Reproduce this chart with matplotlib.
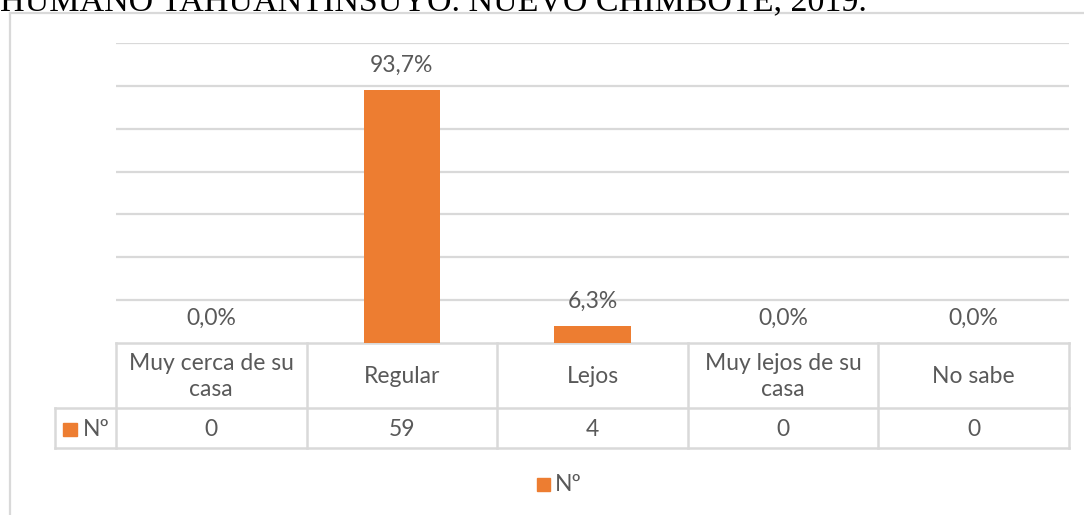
import matplotlib
matplotlib.use("Agg")
import matplotlib.pyplot as plt
from matplotlib.patches import Rectangle

categories = ["Muy cerca de su\ncasa", "Regular", "Lejos", "Muy lejos de su\ncasa", "No sabe"]
counts = [0, 59, 4, 0, 0]
pct_labels = ["0,0%", "93,7%", "6,3%", "0,0%", "0,0%"]
series_name = "Nº"
title = "HUMANO TAHUANTINSUYO. NUEVO CHIMBOTE, 2019."

W, H = 1084, 515
fig = plt.figure(figsize=(W / 100, H / 100), dpi=100)
fig.patch.set_facecolor("white")

FONT = ["Lato", "DejaVu Sans"]
FS = 16.5
TXT = "#595959"
GRID = "#D9D9D9"
ORANGE = "#ED7D31"

# plot area in pixels
L, R, T, B = 116, 1069, 43, 343
ax = fig.add_axes([L / W, (H - B) / H, (R - L) / W, (B - T) / H])
ax.set_xlim(-0.5, len(categories) - 0.5)
ax.set_ylim(0, 70)
ax.set_yticks(range(10, 71, 10))
ax.yaxis.grid(True, color=GRID, linewidth=1.6)
ax.set_axisbelow(True)
ax.tick_params(left=False, bottom=False, labelleft=False, labelbottom=False)
for s in ax.spines.values():
    s.set_visible(False)

x = list(range(len(categories)))
ax.bar(x, counts, width=0.4, color=ORANGE, zorder=3)
for xi, c, lab in zip(x, counts, pct_labels):
    ax.annotate(lab, (xi, c), xytext=(0, 17.5), textcoords="offset points",
                ha="center", va="center", fontsize=FS, color=TXT, family=FONT)

# helper: pixel y -> axes fraction
def ay(py):
    return (B - py) / (B - T)

def axx(px):
    return (px - L) / (R - L)

row1_top, row1_bot, row2_bot = 343, 408, 448
key_left = 55
lw = 1.8
tr = ax.transAxes
# horizontal lines
ax.plot([0, 1], [ay(row1_top)] * 2, color=GRID, lw=lw, transform=tr, clip_on=False)
ax.plot([axx(key_left), 1], [ay(row1_bot)] * 2, color=GRID, lw=lw, transform=tr, clip_on=False)
ax.plot([axx(key_left), 1], [ay(row2_bot)] * 2, color=GRID, lw=lw, transform=tr, clip_on=False)
# vertical lines
n = len(categories)
for i in range(n + 1):
    ax.plot([i / n] * 2, [ay(row1_top), ay(row2_bot)], color=GRID, lw=lw, transform=tr, clip_on=False)
ax.plot([axx(key_left)] * 2, [ay(row1_bot), ay(row2_bot)], color=GRID, lw=lw, transform=tr, clip_on=False)

for i, (cat, c) in enumerate(zip(categories, counts)):
    xc = (i + 0.5) / n
    ax.text(xc, ay((row1_top + row1_bot) / 2 + 1), cat, ha="center", va="center",
            fontsize=FS, color=TXT, family=FONT, transform=tr, linespacing=1.35)
    ax.text(xc, ay((row1_bot + row2_bot) / 2 + 1), str(c), ha="center", va="center",
            fontsize=FS, color=TXT, family=FONT, transform=tr)

# key in table
ax.add_patch(Rectangle((axx(63), ay(436)), axx(77) - axx(63), ay(423) - ay(436),
                       transform=tr, color=ORANGE, clip_on=False))
ax.text(axx(83), ay(429.5), series_name, ha="left", va="center", fontsize=FS,
        color=TXT, family=FONT, transform=tr)

# legend at bottom
fig.patches.append(Rectangle((537 / W, (H - 491) / H), 13 / W, 13 / H,
                             transform=fig.transFigure, color=ORANGE))
fig.text(555 / W, (H - 484.5) / H, series_name, ha="left", va="center",
         fontsize=FS, color=TXT, family=FONT)

# chart border (left and top)
fig.lines.append(plt.Line2D([10 / W, 10 / W], [0, (H - 13) / H], transform=fig.transFigure,
                            color=GRID, lw=1.6))
fig.lines.append(plt.Line2D([10 / W, 1], [(H - 13) / H] * 2, transform=fig.transFigure,
                            color=GRID, lw=1.6))

# cut-off title (cut at the top edge, as in the reference)
fig.text(0.0, (H - 10) / H, title, ha="left", va="baseline", fontsize=24.5,
         family=["Liberation Serif", "DejaVu Serif"], color="black")

fig.savefig("out.png", dpi=100, facecolor="white")
